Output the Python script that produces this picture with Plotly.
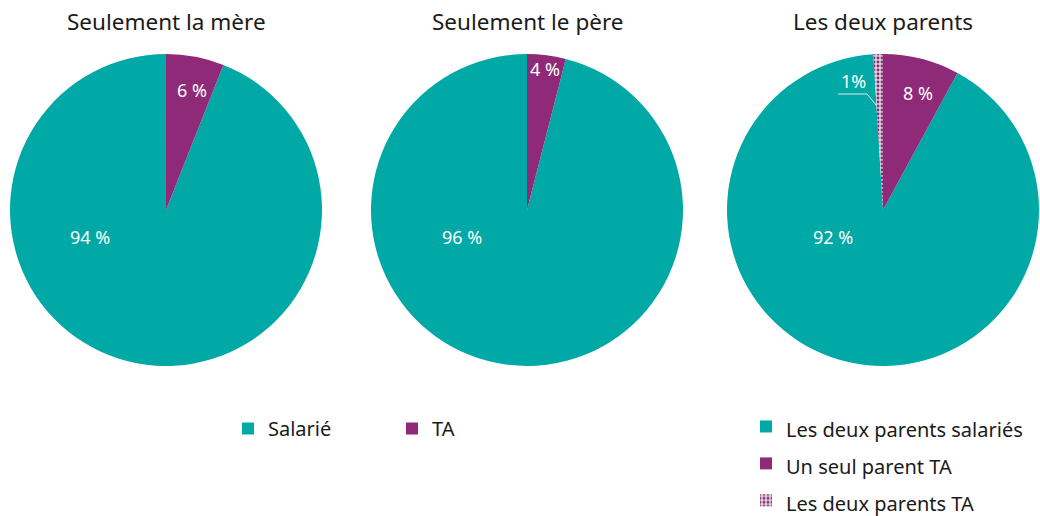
import plotly.graph_objects as go

# ---- data ----
titles = ["Seulement la mère", "Seulement le père", "Les deux parents"]
labels_a = ["Salarié", "TA"]
values_mere = [94, 6]
values_pere = [96, 4]
labels_b = ["Les deux parents salariés", "Un seul parent TA", "Les deux parents TA"]
values_deux = [92, 8, 1]
text_mere = ["94 %", "6 %"]
text_pere = ["96 %", "4 %"]
text_deux = ["92 %", "8 %", "1%"]

TEAL = "#00A9A5"
PURPLE = "#8E2A78"
LIGHT = "#DAD6DA"
FONT = "Noto Sans"
W, H = 1040, 516


def px_x(x):
    return x / W


def px_y(y):
    return 1 - y / H


fig = go.Figure()

doms = [(10, 322), (371, 683), (727, 1039)]
ytop, ybot = 54, 366


def rot(values):
    return 360 * values[1] / sum(values)


fig.add_trace(go.Pie(
    labels=labels_a, values=values_mere, sort=False, direction="counterclockwise",
    rotation=rot(values_mere), textinfo="none", hoverinfo="label+percent",
    marker=dict(colors=[TEAL, PURPLE], line=dict(width=0)),
    domain=dict(x=[px_x(doms[0][0]), px_x(doms[0][1])], y=[px_y(ybot), px_y(ytop)]),
    legend="legend",
))
fig.add_trace(go.Pie(
    labels=labels_a, values=values_pere, sort=False, direction="counterclockwise",
    rotation=rot(values_pere), textinfo="none", hoverinfo="label+percent",
    marker=dict(colors=[TEAL, PURPLE], line=dict(width=0)),
    domain=dict(x=[px_x(doms[1][0]), px_x(doms[1][1])], y=[px_y(ybot), px_y(ytop)]),
    legend="legend",
))
fig.add_trace(go.Pie(
    labels=[f"<span style='font-size:20px'>{l}</span>" for l in labels_b],
    values=values_deux, sort=False, direction="counterclockwise",
    rotation=rot(values_deux), textinfo="none", hoverinfo="label+percent",
    marker=dict(colors=[TEAL, PURPLE, LIGHT], line=dict(width=0),
                pattern=dict(shape=["", "", "."], fgcolor=PURPLE, bgcolor=LIGHT,
                             size=4, solidity=0.4, fillmode="replace")),
    domain=dict(x=[px_x(doms[2][0]), px_x(doms[2][1])], y=[px_y(ybot), px_y(ytop)]),
    legend="legend2",
))

annotations = []
centers = [166, 527, 883]
for t, cx in zip(titles, centers):
    annotations.append(dict(text=t, x=px_x(cx), y=px_y(22), xref="paper", yref="paper",
                            showarrow=False, font=dict(family=FONT, size=22.5, color="#1a1a1a"),
                            xanchor="center", yanchor="middle"))

label_pos = [
    (text_mere[0], 90, 237), (text_mere[1], 192, 90),
    (text_pere[0], 462, 237), (text_pere[1], 545, 69),
    (text_deux[0], 833, 237), (text_deux[1], 918, 93), (text_deux[2], 853, 81),
]
for t, x, y in label_pos:
    annotations.append(dict(text=t, x=px_x(x), y=px_y(y), xref="paper", yref="paper",
                            showarrow=False, font=dict(family=FONT, size=18, color="white"),
                            xanchor="center", yanchor="middle"))

fig.add_shape(type="path", xref="paper", yref="paper",
              path=f"M {px_x(838)},{px_y(94)} L {px_x(867)},{px_y(94)} L {px_x(877)},{px_y(106)}",
              line=dict(color="#E6E6E6", width=1))

fig.update_layout(
    width=W, height=H,
    margin=dict(l=0, r=0, t=0, b=0, autoexpand=False),
    paper_bgcolor="white", plot_bgcolor="white",
    font=dict(family=FONT, size=20, color="#1a1a1a"),
    annotations=annotations,
    legend=dict(orientation="h", xref="container", yref="container",
                x=px_x(228), xanchor="left", y=px_y(409), yanchor="top",
                entrywidth=119, entrywidthmode="pixels",
                font=dict(family=FONT, size=20, color="#1a1a1a"), bgcolor="rgba(0,0,0,0)"),
    legend2=dict(orientation="v", xref="container", yref="container",
                 x=px_x(746), xanchor="left", y=px_y(403), yanchor="top",
                 font=dict(family=FONT, size=26.1, color="#1a1a1a"), bgcolor="rgba(0,0,0,0)"),
)

fig.write_html("out.html", config={"displayModeBar": False},
               post_script="document.body.style.margin='0';document.body.style.overflow='hidden';")
